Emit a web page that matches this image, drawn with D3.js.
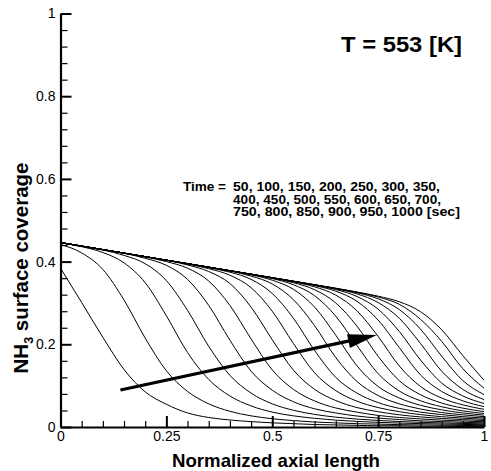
<!DOCTYPE html>
<html>
<head>
<meta charset="utf-8">
<script src="https://cdn.jsdelivr.net/npm/d3@7"></script>
<style>
  html, body { margin: 0; padding: 0; background: #fff; }
  svg { display: block; font-family: "Liberation Sans", Arial, Helvetica, sans-serif; }
</style>
</head>
<body>
<svg id="chart" width="491" height="471"></svg>
<script>
// ---- data ----
const xs = [0, 0.05, 0.1, 0.15, 0.2, 0.25, 0.3, 0.35, 0.4, 0.45, 0.5,
            0.55, 0.6, 0.65, 0.7, 0.75, 0.8, 0.85, 0.9, 0.95, 1.0];
const times = [50, 100, 150, 200, 250, 300, 350, 400, 450, 500,
               550, 600, 650, 700, 750, 800, 850, 900, 950, 1000];

const t50   = [0.384, 0.301, 0.217, 0.139, 0.085, 0.055, 0.034, 0.023, 0.017, 0.013, 0.010, 0.008, 0.006, 0.005, 0.004, 0.003, 0.003, 0.002, 0.002, 0.001, 0.001];
const t100  = [0.4415, 0.421, 0.381, 0.307, 0.215, 0.136, 0.086, 0.056, 0.038, 0.027, 0.020, 0.0155, 0.012, 0.010, 0.008, 0.007, 0.0057, 0.005, 0.0043, 0.0037, 0.0033];
const t150  = [0.445, 0.436, 0.422, 0.397, 0.349, 0.269, 0.180, 0.115, 0.075, 0.051, 0.036, 0.027, 0.021, 0.0166, 0.0135, 0.0112, 0.0095, 0.0081, 0.0071, 0.0062, 0.0055];
const t200  = [0.446, 0.437, 0.428, 0.415, 0.395, 0.354, 0.282, 0.195, 0.125, 0.082, 0.056, 0.0405, 0.0305, 0.0238, 0.0191, 0.0158, 0.0132, 0.0113, 0.0098, 0.0086, 0.0076];
const t250  = [0.446, 0.4375, 0.429, 0.420, 0.408, 0.391, 0.357, 0.294, 0.210, 0.135, 0.089, 0.061, 0.044, 0.034, 0.0265, 0.0215, 0.018, 0.015, 0.013, 0.0114, 0.010];
const t300  = [0.446, 0.4375, 0.429, 0.4205, 0.411, 0.400, 0.384, 0.353, 0.294, 0.213, 0.138, 0.091, 0.063, 0.046, 0.036, 0.028, 0.023, 0.0195, 0.0166, 0.0145, 0.0127];
const t350  = [0.446, 0.4375, 0.429, 0.4205, 0.412, 0.403, 0.392, 0.376, 0.347, 0.290, 0.211, 0.1375, 0.091, 0.064, 0.047, 0.037, 0.0295, 0.0244, 0.0207, 0.0178, 0.0156];
const t400  = [0.446, 0.4375, 0.429, 0.4205, 0.412, 0.4035, 0.394, 0.383, 0.367, 0.337, 0.280, 0.202, 0.131, 0.088, 0.0625, 0.047, 0.037, 0.030, 0.025, 0.0214, 0.0186];
const t450  = [0.446, 0.4375, 0.429, 0.4205, 0.412, 0.4035, 0.395, 0.385, 0.3745, 0.357, 0.323, 0.263, 0.185, 0.120, 0.082, 0.059, 0.045, 0.036, 0.030, 0.025, 0.0216];
const t500  = [0.446, 0.4375, 0.429, 0.4205, 0.412, 0.4035, 0.395, 0.3865, 0.377, 0.365, 0.346, 0.308, 0.245, 0.168, 0.110, 0.076, 0.056, 0.0436, 0.035, 0.0294, 0.025];
const t550  = [0.446, 0.4375, 0.429, 0.4205, 0.412, 0.4035, 0.395, 0.3865, 0.378, 0.368, 0.355, 0.333, 0.290, 0.222, 0.148, 0.098, 0.070, 0.0525, 0.0415, 0.034, 0.0287];
const t600  = [0.446, 0.4375, 0.429, 0.4205, 0.412, 0.4035, 0.395, 0.3865, 0.378, 0.369, 0.359, 0.344, 0.3175, 0.268, 0.197, 0.129, 0.087, 0.0635, 0.049, 0.039, 0.0327];
const t650  = [0.446, 0.4375, 0.429, 0.4205, 0.412, 0.4035, 0.395, 0.3865, 0.378, 0.3695, 0.360, 0.349, 0.332, 0.300, 0.244, 0.171, 0.112, 0.078, 0.058, 0.0456, 0.0373];
const t700  = [0.446, 0.4375, 0.429, 0.4205, 0.412, 0.4035, 0.395, 0.3865, 0.378, 0.3695, 0.361, 0.351, 0.339, 0.319, 0.281, 0.219, 0.1475, 0.098, 0.070, 0.0535, 0.0428];
const t750  = [0.446, 0.4375, 0.429, 0.4205, 0.412, 0.4035, 0.395, 0.3865, 0.378, 0.3695, 0.361, 0.352, 0.342, 0.3285, 0.304, 0.2586, 0.192, 0.126, 0.086, 0.0633, 0.0493];
const t800  = [0.446, 0.4375, 0.429, 0.4205, 0.412, 0.4035, 0.395, 0.3865, 0.378, 0.3695, 0.361, 0.3525, 0.343, 0.3325, 0.3156, 0.285, 0.231, 0.162, 0.1064, 0.0751, 0.0568];
const t850  = [0.446, 0.4375, 0.429, 0.4205, 0.412, 0.4035, 0.395, 0.3865, 0.378, 0.3695, 0.361, 0.3525, 0.344, 0.334, 0.322, 0.301, 0.263, 0.202, 0.135, 0.091, 0.0663];
const t900  = [0.446, 0.4375, 0.429, 0.4205, 0.412, 0.4035, 0.395, 0.3865, 0.378, 0.3695, 0.361, 0.3525, 0.344, 0.335, 0.3247, 0.310, 0.284, 0.2367, 0.1714, 0.1122, 0.0783];
const t950  = [0.446, 0.4375, 0.429, 0.4205, 0.412, 0.4035, 0.395, 0.3865, 0.378, 0.3695, 0.361, 0.3525, 0.344, 0.3355, 0.326, 0.3144, 0.2967, 0.2605, 0.2072, 0.141, 0.094];
const t1000 = [0.446, 0.4375, 0.429, 0.4205, 0.412, 0.4035, 0.395, 0.3865, 0.378, 0.3695, 0.361, 0.3525, 0.344, 0.3355, 0.3265, 0.3164, 0.3029, 0.279, 0.2353, 0.1726, 0.1131];

const seriesList = [t50, t100, t150, t200, t250, t300, t350, t400, t450, t500,
                    t550, t600, t650, t700, t750, t800, t850, t900, t950, t1000];

const xMajorTicks = [0, 0.25, 0.5, 0.75, 1];
const xTickLabels = ["0", "0.25", "0.5", "0.75", "1"];
const yMajorTicks = [0, 0.2, 0.4, 0.6, 0.8, 1];
const yTickLabels = ["0", "0.2", "0.4", "0.6", "0.8", "1"];

const arrowFrom = [0.1415, 0.0895];   // [x, coverage]
const arrowTo   = [0.747, 0.2225];

const titleText = "T = 553 [K]";
const timeLabel = "Time =";
const timeLines = [
  "50, 100, 150, 200, 250, 300, 350,",
  "400, 450, 500, 550, 600, 650, 700,",
  "750, 800, 850, 900, 950, 1000 [sec]"
];
const xTitle = "Normalized axial length";

// ---- drawing ----
const svg = d3.select("#chart");
const x = d3.scaleLinear().domain([0, 1]).range([60.5, 484]);
const y = d3.scaleLinear().domain([0, 1]).range([427, 13.5]);

// curves
const line = d3.line()
  .x((d, i) => x(xs[i]))
  .y(d => y(d))
  .curve(d3.curveMonotoneX);

svg.append("g")
  .selectAll("path")
  .data(seriesList)
  .join("path")
  .attr("d", d => line(d))
  .attr("fill", "none")
  .attr("stroke", "#000")
  .attr("stroke-width", 1);

// minor ticks
const xMinor = d3.range(0, 1.0001, 0.05).map(v => +v.toFixed(2)).filter(v => !xMajorTicks.includes(v));
const yMinor = d3.range(0, 1.0001, 0.04).map(v => +v.toFixed(2)).filter(v => !yMajorTicks.some(m => Math.abs(m - v) < 1e-6));

svg.append("g")
  .attr("transform", `translate(0,${y(0)})`)
  .call(d3.axisBottom(x).tickValues(xMinor).tickSize(-6).tickSizeOuter(0).tickFormat(""))
  .call(g => g.select(".domain").remove())
  .call(g => g.selectAll("line").attr("stroke", "#000").attr("stroke-width", 1.2));

svg.append("g")
  .attr("transform", `translate(${x(0)},0)`)
  .call(d3.axisLeft(y).tickValues(yMinor).tickSize(-7).tickSizeOuter(0).tickFormat(""))
  .call(g => g.select(".domain").remove())
  .call(g => g.selectAll("line").attr("stroke", "#000").attr("stroke-width", 1.2));

// major axes
const xAxis = svg.append("g")
  .attr("transform", `translate(0,${y(0)})`)
  .call(d3.axisBottom(x).tickValues(xMajorTicks).tickSize(-11).tickSizeOuter(0)
        .tickPadding(4).tickFormat((d, i) => xTickLabels[i]));
xAxis.select(".domain").attr("stroke", "#000").attr("stroke-width", 2.2);
xAxis.selectAll(".tick line").attr("stroke", "#000").attr("stroke-width", 2);
xAxis.selectAll("text").attr("font-size", 14).attr("fill", "#000")
  .attr("font-family", "'Liberation Sans', Arial, sans-serif");

const yAxis = svg.append("g")
  .attr("transform", `translate(${x(0)},0)`)
  .call(d3.axisLeft(y).tickValues(yMajorTicks).tickSize(-11).tickSizeOuter(0)
        .tickPadding(5).tickFormat((d, i) => yTickLabels[i]));
yAxis.select(".domain").attr("stroke", "#000").attr("stroke-width", 2.2);
yAxis.selectAll(".tick line").attr("stroke", "#000").attr("stroke-width", 2);
yAxis.selectAll("text").attr("font-size", 14).attr("fill", "#000")
  .attr("font-family", "'Liberation Sans', Arial, sans-serif");

// axis titles
svg.append("text")
  .attr("x", 276)
  .attr("y", 467)
  .attr("text-anchor", "middle")
  .attr("font-size", 18.5)
  .attr("font-weight", "bold")
  .attr("textLength", 208)
  .attr("lengthAdjust", "spacingAndGlyphs")
  .text(xTitle);

const yt = svg.append("text")
  .attr("transform", "translate(28,268) rotate(-90)")
  .attr("text-anchor", "middle")
  .attr("font-size", 20.5)
  .attr("font-weight", "bold");
yt.append("tspan").text("NH");
yt.append("tspan").attr("font-size", 12.5).attr("dy", 5).text("3");
yt.append("tspan").attr("dy", -5).text(" surface coverage");

// title label
svg.append("text")
  .attr("x", 341)
  .attr("y", 52)
  .attr("font-size", 21.5)
  .attr("font-weight", "bold")
  .attr("textLength", 121)
  .attr("lengthAdjust", "spacingAndGlyphs")
  .text(titleText);

// time annotation
const ann = svg.append("g").attr("font-size", 12.5).attr("font-weight", "bold");
ann.append("text").attr("x", 183).attr("y", 191)
  .attr("textLength", 43).attr("lengthAdjust", "spacingAndGlyphs").text(timeLabel);
const lineWidths = [207, 208, 227];
timeLines.forEach((t, i) => {
  ann.append("text").attr("x", 233).attr("y", 191 + i * 12.5)
    .attr("textLength", lineWidths[i]).attr("lengthAdjust", "spacingAndGlyphs")
    .text(t);
});

// arrow
const ax0 = x(arrowFrom[0]), ay0 = y(arrowFrom[1]);
const ax1 = x(arrowTo[0]),   ay1 = y(arrowTo[1]);
const ang = Math.atan2(ay1 - ay0, ax1 - ax0);
const headLen = 29, headHalf = 7;
const bx = ax1 - headLen * Math.cos(ang), by = ay1 - headLen * Math.sin(ang);
svg.append("line")
  .attr("x1", ax0).attr("y1", ay0).attr("x2", bx + 2 * Math.cos(ang)).attr("y2", by + 2 * Math.sin(ang))
  .attr("stroke", "#000").attr("stroke-width", 3.2);
svg.append("polygon")
  .attr("points", [
    [ax1, ay1],
    [bx - headHalf * Math.sin(ang), by + headHalf * Math.cos(ang)],
    [bx + headHalf * Math.sin(ang), by - headHalf * Math.cos(ang)]
  ].map(p => p.join(",")).join(" "))
  .attr("fill", "#000");
</script>
</body>
</html>
